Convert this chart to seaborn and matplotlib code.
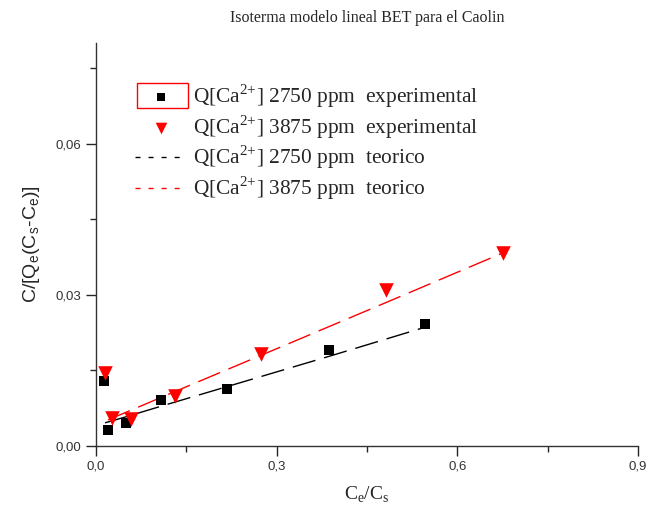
import matplotlib
matplotlib.use("Agg")
import matplotlib.pyplot as plt
import matplotlib.ticker as mticker
from matplotlib.patches import Rectangle
import seaborn as sns
import pandas as pd

# --- data ---
x_2750_exp = [0.013, 0.020, 0.050, 0.108, 0.218, 0.387, 0.547]
y_2750_exp = [0.0129, 0.0032, 0.0046, 0.0091, 0.0113, 0.0191, 0.0242]
x_3875_exp = [0.015, 0.027, 0.058, 0.131, 0.274, 0.482, 0.675]
y_3875_exp = [0.0145, 0.0056, 0.0054, 0.0099, 0.0183, 0.0310, 0.0383]
x_2750_teo = [0.015, 0.050, 0.108, 0.218, 0.387, 0.547]
y_2750_teo = [0.0046, 0.0058, 0.0079, 0.0118, 0.0178, 0.0236]
x_3875_teo = [0.020, 0.058, 0.131, 0.274, 0.482, 0.675]
y_3875_teo = [0.0052, 0.0071, 0.0108, 0.0180, 0.0285, 0.0383]

labels = [r"Q[Ca$^{\mathregular{2{+}}}$] 2750 ppm  experimental",
          r"Q[Ca$^{\mathregular{2{+}}}$] 3875 ppm  experimental",
          r"Q[Ca$^{\mathregular{2{+}}}$] 2750 ppm  teorico",
          r"Q[Ca$^{\mathregular{2{+}}}$] 3875 ppm  teorico"]
title = "Isoterma modelo lineal BET para el Caolin"
xticks = [0.0, 0.3, 0.6, 0.9]
yticks = [0.00, 0.03, 0.06]

df_e1 = pd.DataFrame({"x": x_2750_exp, "y": y_2750_exp})
df_e2 = pd.DataFrame({"x": x_3875_exp, "y": y_3875_exp})
df_t1 = pd.DataFrame({"x": x_2750_teo, "y": y_2750_teo})
df_t2 = pd.DataFrame({"x": x_3875_teo, "y": y_3875_teo})

sns.set_style("ticks")
plt.rcParams["font.family"] = ["Liberation Serif", "DejaVu Serif"]
plt.rcParams["mathtext.fontset"] = "custom"
plt.rcParams["mathtext.rm"] = "Liberation Serif"

fig = plt.figure(figsize=(6.5, 5.19), dpi=100)
ax = fig.add_axes([96/650, 1-446/519, 542/650, (446-43)/519])

sns.lineplot(data=df_t1, x="x", y="y", ax=ax, color="black", linewidth=1.0,
             label=labels[2], sort=False)
ax.lines[-1].set_dashes((17, 6.5))
sns.lineplot(data=df_t2, x="x", y="y", ax=ax, color="#ff0000", linewidth=1.0,
             label=labels[3], sort=False)
ax.lines[-1].set_dashes((17, 6.5))
sns.scatterplot(data=df_e1, x="x", y="y", ax=ax, marker="s", color="black",
                s=55, edgecolor="black", linewidth=0, label=labels[0], zorder=5)
sns.scatterplot(data=df_e2, x="x", y="y", ax=ax, marker="v", color="#ff0000",
                s=110, edgecolor="#ff0000", linewidth=0, label=labels[1], zorder=5)

ax.set_xlim(0, 0.9)
ax.set_ylim(0, 0.08)
ax.set_xticks(xticks)
ax.set_yticks(yticks)
ax.xaxis.set_minor_locator(mticker.MultipleLocator(0.15))
ax.yaxis.set_minor_locator(mticker.MultipleLocator(0.015))
ax.xaxis.set_major_formatter(mticker.FuncFormatter(lambda v, p: f"{v:.1f}".replace(".", ",")))
ax.yaxis.set_major_formatter(mticker.FuncFormatter(lambda v, p: f"{v:.2f}".replace(".", ",")))
ax.tick_params(which="major", direction="out", length=7, width=1, labelsize=9.5,
               labelcolor="#333333")
ax.tick_params(which="minor", direction="out", length=4, width=1)
for lab in ax.get_xticklabels() + ax.get_yticklabels():
    lab.set_family("Liberation Sans")
for s in ["top", "right"]:
    ax.spines[s].set_visible(False)
for s in ["left", "bottom"]:
    ax.spines[s].set_linewidth(1.0)
    ax.spines[s].set_color("#333333")

ax.set_xlabel(r"C$_{\mathregular{e}}$/C$_{\mathregular{s}}$", fontsize=14, labelpad=9)
ax.set_ylabel(r"C/[Q$_{\mathregular{e}}$(C$_{\mathregular{s}}$-C$_{\mathregular{e}}$)]",
              fontsize=14, family="Liberation Sans", labelpad=10)
fig.text(367/650, 1-18/519, title, fontsize=11.5, ha="center", va="center")

handles, labs = ax.get_legend_handles_labels()
order = [labs.index(l) for l in labels]
leg = ax.legend([handles[i] for i in order], [labs[i] for i in order],
                loc="upper left", bbox_to_anchor=(0.056, 0.924), frameon=False,
                fontsize=15.4, handlelength=2.45, handletextpad=0.25, labelspacing=0.15,
                borderaxespad=0)
leg.legend_handles[0].set_sizes([38])
leg.legend_handles[1].set_sizes([70])
for hl in leg.legend_handles[2:]:
    hl.set_dashes((3.6, 5.8))

fig.canvas.draw()
tb = leg.get_texts()[0].get_window_extent(fig.canvas.get_renderer())
cy = (tb.y0 + tb.y1) / 2
w, h = 51, 25
x1 = tb.x0 - 5
rect = Rectangle(((x1 - w) / 650, (cy - h/2) / 519), w / 650, h / 519,
                 transform=fig.transFigure, fill=False, edgecolor="#ff0000", linewidth=1.0)
fig.patches.append(rect)

fig.savefig("out.png", dpi=100)
